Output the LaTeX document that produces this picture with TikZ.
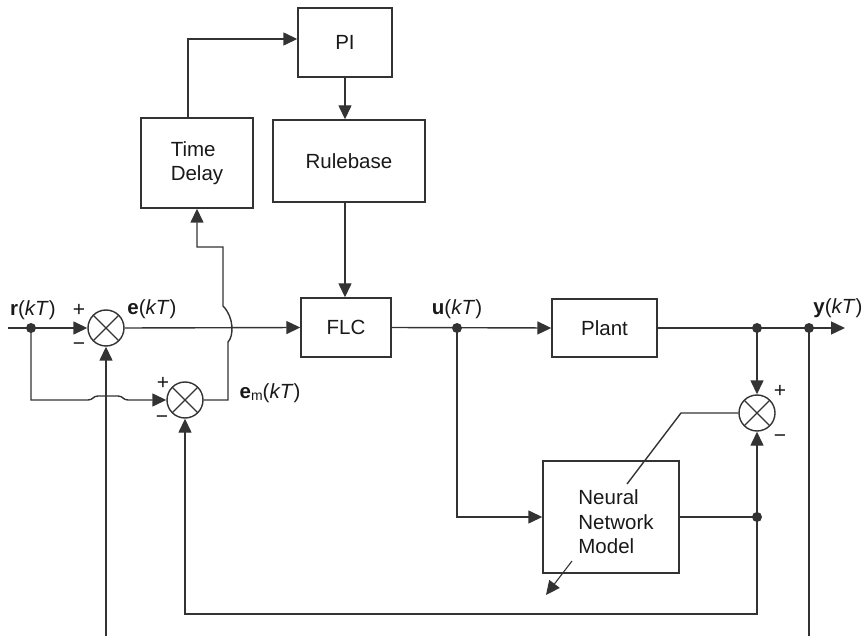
\documentclass[tikz,border=0pt]{standalone}
\usepackage{fontspec}
\setmainfont{Liberation Sans}
\usetikzlibrary{arrows.meta,calc}
\begin{document}
\begin{tikzpicture}[x=1pt,y=-1pt, line width=1.4pt, color=black!80,
  >={Triangle[length=14pt,width=13pt]},
  every node/.style={font=\fontsize{20.5}{24.5}\selectfont, text=black!90},
  blk/.style={draw, rectangle, inner sep=0pt, align=center},
  sumj/.style={draw, circle, minimum size=36pt, inner sep=0pt,
    path picture={\draw[line width=1.2pt] (path picture bounding box.north west) -- (path picture bounding box.south east)
      (path picture bounding box.north east) -- (path picture bounding box.south west);}},
  dot/.style={circle, fill, inner sep=0pt, minimum size=10pt},
  sgn/.style={font=\fontsize{21}{24}\selectfont, inner sep=0pt}]
\useasboundingbox (0,0) rectangle (865,636);

% blocks
\node[blk, minimum width=112pt, minimum height=90pt, align=left] (TD) at (197,163) {Time\\Delay};
\node[blk, minimum width=94pt, minimum height=69pt] (PI) at (345,42.5) {PI};
\node[blk, minimum width=152pt, minimum height=82pt] (RB) at (349,161) {Rulebase};
\node[blk, minimum width=90pt, minimum height=59pt] (FLC) at (346,327.5) {FLC};
\node[blk, minimum width=105pt, minimum height=58pt] (PL) at (604.5,328) {Plant};
\node[blk, minimum width=136pt, minimum height=112pt] (NN) at (611,517) {};
\node[align=left, inner sep=0pt] (NNt) at (616,522) {Neural\\Network\\Model};

% summing junctions
\node[sumj] (S1) at (106,328) {};
\node[sumj] (S2) at (185,400) {};
\node[sumj] (S3) at (757,413) {};

% dots
\node[dot] (dr) at (31,328) {};
\node[dot] (du) at (457,328) {};
\node[dot] (dy1) at (757,328) {};
\node[dot] (dy2) at (809,328) {};
\node[dot] (dn) at (757,517) {};

% free ends
\coordinate (rin) at (8,328);
\coordinate (yout) at (845,328);
\coordinate (b1) at (106,636);
\coordinate (b2) at (809,636);

% labels
\node (lr) at (33,310) {\textbf{r}(\textit{kT})};
\node (le) at (152,309) {\textbf{e}(\textit{kT})};
\node (lu) at (457,309) {\textbf{u}(\textit{kT})};
\node (ly) at (838,308) {\textbf{y}(\textit{kT})};
\node (lem) at (270,393) {\textbf{e}\raisebox{-2pt}{\fontsize{14}{14}\selectfont m}(\textit{kT})};

\node[sgn] (p1) at (79,310) {+};
\node[sgn] (m1) at (79,347) {−};
\node[sgn] (p2) at (163,383) {+};
\node[sgn] (m2) at (162,420) {−};
\node[sgn] (p3) at (780,391) {+};
\node[sgn] (m3) at (780,439) {−};

% connectors
\draw[->] (rin) -- (S1.west);
\draw[->] (S1.east) -- (FLC.west);
\draw[->] (dr.center) -- (31,400) -- (88,400) .. controls (93,400) and (93,396) .. (98,396)
  -- (118,396) .. controls (123,396) and (123,400) .. (128,400) -- (S2.west);
\draw[->] (S2.east) -- (228,400) -- (228,342) .. controls (234,336) and (234,317) .. (223,306)
  -- (223,247) -- (197,247) -- (TD.south);
\draw[->] (188,118) -- (188,39) -- (PI.west |- 0,39);
\draw[->] (PI.south) -- (PI.south |- RB.north);
\draw[->] (PI.south |- RB.south) -- (PI.south |- FLC.north);
\draw[->] (FLC.east) -- (PL.west);
\draw[->] (du.center) -- (457,517) -- (NN.west);
\draw[->] (PL.east) -- (yout);
\draw[->] (dy1.center) -- (S3.north);
\draw (NN.east) -- (dn.center);
\draw[->] (dn.center) -- (S3.south);
\draw[->] (dn.center) -- (757,614) -- (185,614) -- (S2.south);
\draw[->] (b1) -- (S1.south);
\draw (dy2.center) -- (b2);
\draw (627,484) -- (681,413) -- (S3.west);
\draw[->, line width=1.1pt] (572,561) -- (546,595);
\end{tikzpicture}
\end{document}
